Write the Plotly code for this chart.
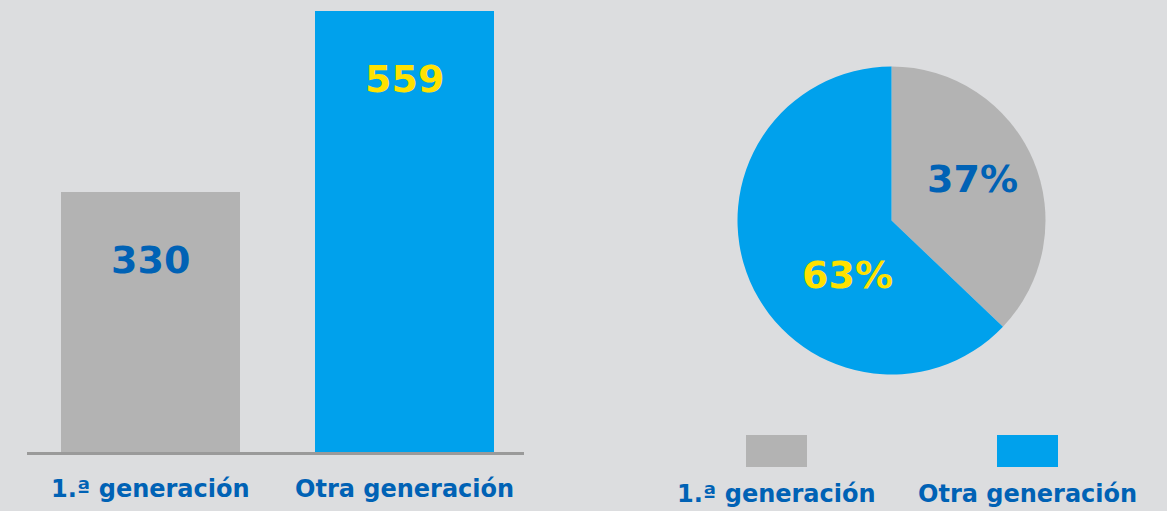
import plotly.graph_objects as go

categories = ["1.ª generación", "Otra generación"]
values = [330, 559]
bar_colors = ["#B3B3B3", "#00A1EC"]
label_colors = ["#0062B5", "#FFE100"]

W, H = 1167, 511
BG = "#DCDDDF"
FONT = "DejaVu Sans"
TXT_BLUE = "#0062B5"

def px_x(x):
    return x / W

def px_y(y):
    return (H - y) / H

fig = go.Figure()

fig.add_trace(go.Bar(
    x=categories, y=values, marker=dict(color=bar_colors, line=dict(width=0)),
    width=0.705, hoverinfo="skip", showlegend=False,
))

fig.add_trace(go.Pie(
    labels=categories, values=values, sort=False, direction="clockwise", rotation=0,
    marker=dict(colors=bar_colors, line=dict(width=0)),
    textinfo="none",
    domain=dict(x=[px_x(737.5), px_x(1045.5)], y=[px_y(374.5), px_y(66.5)]),
    showlegend=False, hoverinfo="skip",
))

annotations = []
# value labels inside bars
for c, v, col in zip(categories, values, label_colors):
    annotations.append(dict(
        x=c, y=v, xref="x", yref="y", text=str(v), showarrow=False,
        yanchor="top", yshift=-44,
        font=dict(family=FONT, size=38, color=col, weight=700),
    ))
# category labels under bars
for c in categories:
    annotations.append(dict(
        x=c, y=px_y(489), xref="x", yref="paper", text=c, showarrow=False,
        yanchor="middle", font=dict(family=FONT, size=24, color=TXT_BLUE, weight=700),
    ))

# percentage labels on the pie
total = sum(values)
pie_label_pos = [(972, 179), (847, 275)]
for v, col, (lx, ly) in zip(values, label_colors, pie_label_pos):
    annotations.append(dict(
        x=px_x(lx), y=px_y(ly), xref="paper", yref="paper",
        text=f"{round(100 * v / total)}%", showarrow=False,
        xanchor="center", yanchor="middle",
        font=dict(family=FONT, size=38, color=col, weight=700),
    ))

# custom legend below pie
legend_centers = [776.5, 1027.5]
shapes = []
for c, col, cx in zip(categories, bar_colors, legend_centers):
    shapes.append(dict(
        type="rect", xref="paper", yref="paper",
        x0=px_x(cx - 30.5), x1=px_x(cx + 30.5), y0=px_y(467), y1=px_y(435),
        fillcolor=col, line=dict(width=0),
    ))
    annotations.append(dict(
        x=px_x(cx), y=px_y(494), xref="paper", yref="paper", text=c, showarrow=False,
        yanchor="middle", xanchor="center",
        font=dict(family=FONT, size=24, color=TXT_BLUE, weight=700),
    ))

fig.update_layout(
    width=W, height=H, margin=dict(l=0, r=0, t=0, b=0),
    paper_bgcolor=BG, plot_bgcolor=BG,
    xaxis=dict(domain=[px_x(27), px_x(524)], range=[-0.486, 1.470],
               showticklabels=False, showgrid=False, zeroline=False,
               showline=True, linewidth=3, linecolor="#9A9A9A", fixedrange=True),
    yaxis=dict(domain=[px_y(452), px_y(11)], range=[0, 559],
               showticklabels=False, showgrid=False, zeroline=False, showline=False),
    annotations=annotations, shapes=shapes, bargap=0,
)

fig.write_html(
    "out.html",
    config={"displayModeBar": False},
    post_script="document.body.style.margin='0';document.body.style.overflow='hidden';",
)
